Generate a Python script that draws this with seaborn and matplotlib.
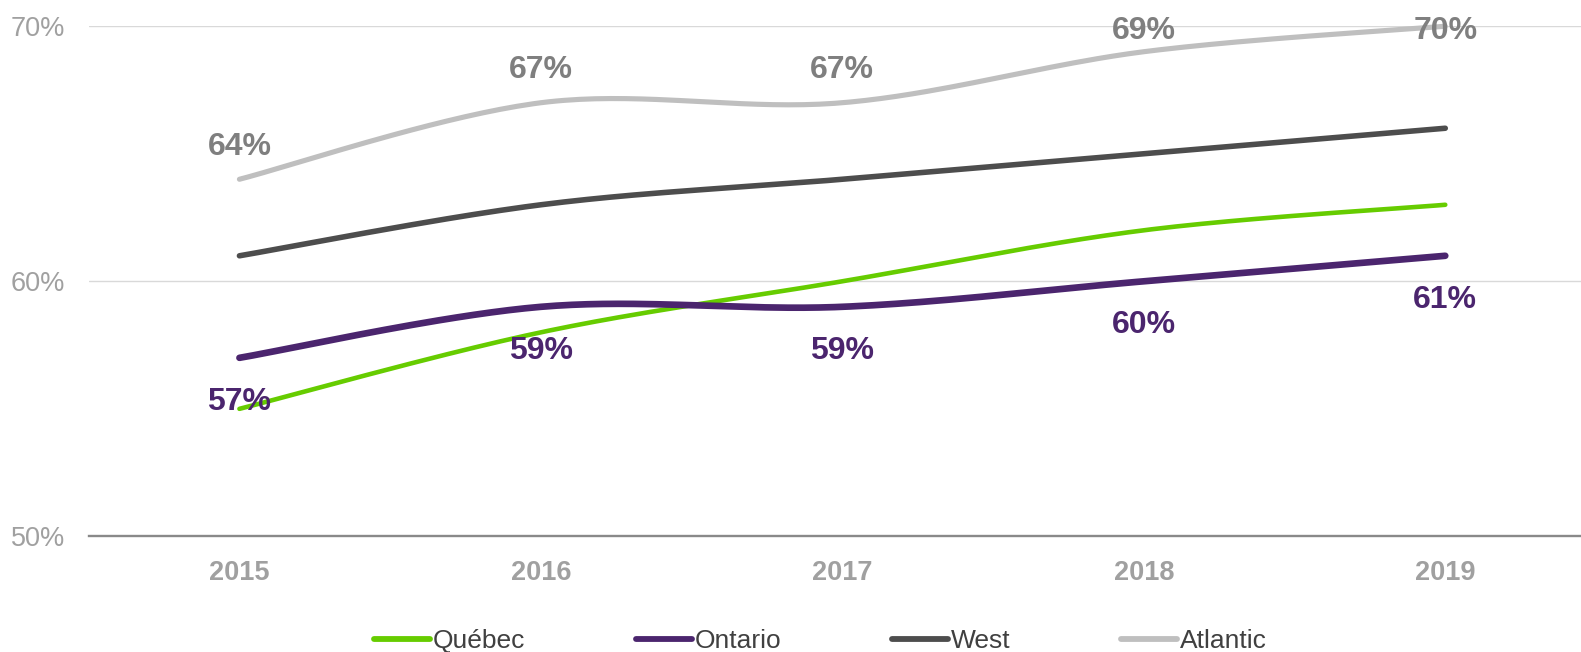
import numpy as np
import pandas as pd
import matplotlib
matplotlib.use("Agg")
import matplotlib.pyplot as plt
from matplotlib.lines import Line2D
import seaborn as sns

years = ["2015", "2016", "2017", "2018", "2019"]
quebec = [55, 58, 60, 62, 63]
ontario = [57, 59, 59, 60, 61]
west = [61, 63, 64, 65, 66]
atlantic = [64, 67, 67, 69, 70]

series_names = ["Québec", "Ontario", "West", "Atlantic"]
series_values = [quebec, ontario, west, atlantic]
series_colors = ["#66CC00", "#4B256E", "#4D4D4D", "#BFBFBF"]
series_widths = [3.3, 4.8, 4.0, 3.7]


def smooth(xs, ys, n=40):
    """Cubic Bezier smoothing through every point (Catmull-Rom style)."""
    px = np.asarray(xs, float)
    py = np.asarray(ys, float)
    px = np.concatenate([[px[0]], px, [px[-1]]])
    py = np.concatenate([[py[0]], py, [py[-1]]])
    out_x, out_y = [], []
    t = np.linspace(0, 1, n)
    for i in range(1, len(px) - 2):
        p0 = np.array([px[i], py[i]])
        p3 = np.array([px[i + 1], py[i + 1]])
        c1 = p0 + (np.array([px[i + 1], py[i + 1]]) - np.array([px[i - 1], py[i - 1]])) / 6
        c2 = p3 - (np.array([px[i + 2], py[i + 2]]) - np.array([px[i], py[i]])) / 6
        b = ((1 - t) ** 3)[:, None] * p0 + (3 * (1 - t) ** 2 * t)[:, None] * c1 \
            + (3 * (1 - t) * t ** 2)[:, None] * c2 + (t ** 3)[:, None] * p3
        if i > 1:
            b = b[1:]
        out_x.extend(b[:, 0])
        out_y.extend(b[:, 1])
    return np.array(out_x), np.array(out_y)


sns.set_theme(style="white")
plt.rcParams["font.family"] = ["Liberation Sans", "DejaVu Sans"]

W, H = 1581, 652
fig = plt.figure(figsize=(W / 100, H / 100), dpi=100)
# plot area runs slightly past the right edge of the canvas
ax = fig.add_axes([88.7 / W, 1 - 536.4 / H, (1596 - 88.7) / W, (536.4 - 26.2) / H])

xpos = np.arange(len(years))
frames = []
for name, vals in zip(series_names, series_values):
    sx, sy = smooth(xpos, vals)
    frames.append(pd.DataFrame({"x": sx, "y": sy, "region": name}))
df = pd.concat(frames, ignore_index=True)

for name, color, lw in zip(series_names, series_colors, series_widths):
    sub = df[df["region"] == name]
    sns.lineplot(data=sub, x="x", y="y", sort=False, estimator=None, ax=ax,
                 color=color, linewidth=lw, solid_capstyle="round", clip_on=False,
                 zorder=3)

# value labels: Atlantic above, Ontario below
for i, v in enumerate(atlantic):
    ax.text(xpos[i], min(v + 1.27, 69.8), f"{v}%", ha="center", va="center",
            fontsize=23, fontweight="bold", color="#7F7F7F", zorder=5)
for i, v in enumerate(ontario):
    ax.text(xpos[i], v - 1.72, f"{v}%", ha="center", va="center",
            fontsize=23, fontweight="bold", color="#4B256E", zorder=5)

ax.set_xlim(-0.5, len(years) - 0.5)
ax.set_ylim(50, 70)
ax.set_yticks([50, 60, 70])
ax.set_yticklabels(["50%", "60%", "70%"])
ax.set_xticks(xpos)
ax.set_xticklabels(years)
ax.set_xlabel("")
ax.set_ylabel("")

ax.grid(axis="y", color="#D9D9D9", linewidth=1.0)
ax.grid(axis="x", visible=False)
ax.set_axisbelow(True)
for side in ["top", "right", "left"]:
    ax.spines[side].set_visible(False)
ax.spines["bottom"].set_color("#898989")
ax.spines["bottom"].set_linewidth(1.7)
ax.spines["bottom"].set_zorder(2)

ax.tick_params(axis="y", length=0, pad=17, labelsize=19.5, labelcolor="#A0A0A0")
ax.tick_params(axis="x", length=0, pad=17, labelsize=19.5, labelcolor="#A0A0A0")
for lbl in ax.get_xticklabels():
    lbl.set_fontweight("bold")

handles = [Line2D([0], [0], color=c, linewidth=4.2, solid_capstyle="round")
           for c in series_colors]
fig.legend(handles, series_names, loc="center", bbox_to_anchor=(0.519, 0.017),
           ncol=4, frameon=False, fontsize=19, handlelength=2.1,
           handletextpad=0.12, columnspacing=4.2, labelcolor="#404040")

fig.savefig("out.png", dpi=100)
